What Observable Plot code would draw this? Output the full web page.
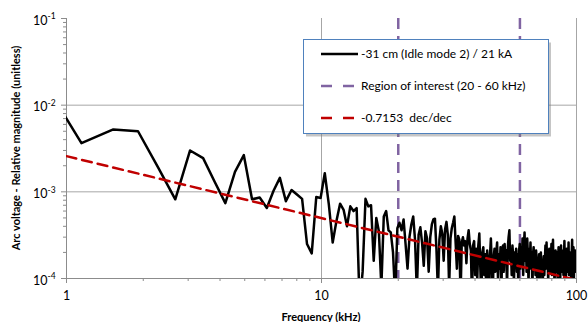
<!DOCTYPE html>
<html>
<head>
<meta charset="utf-8">
<script src="https://cdn.jsdelivr.net/npm/d3@7"></script>
<script src="https://cdn.jsdelivr.net/npm/@observablehq/plot@0.6"></script>
<style>
  html, body { margin: 0; padding: 0; background: #fff; }
  #chart svg { display: block; font-family: Lato, "Open Sans", sans-serif; }
</style>
</head>
<body>
<div id="chart"></div>
<script>
// FFT bin spacing (kHz) and first bin index shown
const binStep = 0.3815;
const firstBin = 2;

// Relative magnitude per frequency bin (bins 2 .. 262)
const magnitude = [
  2.56e-2, 3.65e-3, 5.25e-3, 5.0e-3, 1.9e-3, 8.2e-4, 3.0e-3, 2.45e-3, 1.3e-3, 7.4e-4,
  1.7e-3, 2.65e-3, 8.2e-4, 8.6e-4, 6.5e-4, 1.03e-3, 1.45e-3, 7.8e-4, 1.05e-3, 9.3e-4,
  8.3e-4, 2.5e-4, 1.95e-4, 8.7e-4, 8.5e-4, 1.64e-3, 7.2e-4, 2.6e-4, 4.6e-4, 7.3e-4,
  6.2e-4, 4.0e-4, 6.8e-4, 6.0e-4, 6.5e-4, 5e-5, 1.2e-4, 8.3e-4, 6.8e-4, 7.0e-4,
  1.6e-4, 5.0e-4, 3.5e-4, 8e-5, 5.2e-4, 6.0e-4, 3.6e-4, 3.4e-4, 2.0e-4, 6e-5,
  3.8e-4, 4.4e-4, 3.6e-4, 4.8e-4, 2.5e-4, 1.3e-4, 3.0e-4, 4.2e-4, 5.2e-4, 2.8e-4,
  7e-5, 3.2e-4, 3.9e-4, 2.6e-4, 1.4e-4, 3.5e-4, 2.9e-4, 1.2e-4, 3.0e-4, 4.2e-4,
  4.8e-4, 4.9e-4, 2.2e-4, 7e-5, 2.8e-4, 4.0e-4, 3.3e-4, 1.6e-4, 3.7e-4, 4.5e-4,
  3.2e-4, 8e-5, 2.9e-4, 3.8e-4, 4.4e-4, 5.2e-4, 2.6e-4, 1.3e-4, 3.1e-4, 2.8e-4,
  6e-5, 2.6e-4, 3.0e-4, 2.4e-4, 2.7e-4, 1.5e-4, 2.9e-4, 3.6e-4, 2.5e-4, 2.1e-4,
  6e-5, 2.4e-4, 2.7e-4, 1.1e-4, 2.2e-4, 1.0e-4, 2.4e-4, 3.3e-4, 1.3e-4, 6e-5,
  2.0e-4, 2.3e-4, 1.1e-4, 1.9e-4, 8e-5, 2.1e-4, 1.5e-4, 7e-5, 1.8e-4, 2.9e-4,
  1.4e-4, 6e-5, 1.7e-4, 2.2e-4, 1.2e-4, 2.0e-4, 2.6e-4, 1.0e-4, 1.9e-4, 1.3e-4,
  2.3e-4, 7e-5, 2.1e-4, 2.4e-4, 1.2e-4, 2.5e-4, 1.5e-4, 2.1e-4, 8e-5, 2.3e-4,
  3.0e-4, 3.6e-4, 1.6e-4, 2.2e-4, 1.1e-4, 2.4e-4, 1.8e-4, 9e-5, 2.0e-4, 1.4e-4,
  2.2e-4, 1.2e-4, 1.9e-4, 8e-5, 2.1e-4, 2.5e-4, 1.3e-4,
  2.3e-4, 1.4e-4, 2.9e-4, 1.1e-4, 2.4e-4, 3.4e-4, 1.6e-4, 2.6e-4, 1.2e-4, 2.9e-4,
  1.8e-4, 9e-5, 2.2e-4, 1.5e-4, 2.6e-4, 1.3e-4, 2.0e-4, 7e-5, 1.9e-4, 2.3e-4,
  1.4e-4, 1.8e-4, 1.1e-4, 2.1e-4, 1.6e-4, 8e-5, 1.7e-4, 1.3e-4, 1.9e-4, 1.0e-4,
  1.6e-4, 2.0e-4, 1.2e-4, 1.5e-4, 7e-5, 1.4e-4, 1.8e-4, 1.1e-4, 1.6e-4, 2.4e-4,
  1.3e-4, 2.6e-4, 1.5e-4, 1.9e-4, 9e-5, 1.7e-4, 2.2e-4, 1.2e-4, 1.8e-4, 1.4e-4,
  2.5e-4, 1.1e-4, 1.9e-4, 2.8e-4, 1.3e-4, 1.6e-4, 8e-5, 1.8e-4, 2.1e-4, 1.2e-4,
  1.5e-4, 2.0e-4, 1.0e-4, 1.7e-4, 2.3e-4, 1.4e-4, 1.9e-4, 7e-5, 1.6e-4, 2.4e-4,
  1.2e-4, 1.8e-4, 1.5e-4, 2.1e-4, 1.1e-4, 1.7e-4, 2.7e-4, 1.3e-4, 1.9e-4, 9e-5,
  1.6e-4, 2.2e-4, 1.2e-4, 1.8e-4, 1.4e-4, 2.6e-4, 1.1e-4, 1.7e-4, 2.0e-4, 1.3e-4,
  1.5e-4, 8e-5, 1.9e-4, 2.8e-4, 1.2e-4, 1.6e-4, 2.3e-4, 1.0e-4, 1.8e-4, 1.4e-4,
  2.1e-4, 1.2e-4, 1.9e-4, 1.5e-4
];

// Power-law fit (-0.7153 dec/dec) endpoints
const fitFreq = [1, 100];
const fitMag = [2.58e-3, 9.6e-5];

// Region of interest bounds (kHz)
const regionFreq = [20, 60];

// Axis ticks
const xMajor = [1, 10, 100];
const xMajorLabels = ["1", "10", "100"];
const yMajor = [1e-4, 1e-3, 1e-2, 1e-1];
const yMajorBase = ["10", "10", "10", "10"];
const yMajorExp = ["-4", "-3", "-2", "-1"];
const mult = [2, 3, 4, 5, 6, 7, 8, 9];

const seriesName = "-31 cm (Idle mode 2) / 21 kA";
const regionName = "Region of interest (20 - 60 kHz)";
const fitName = "-0.7153  dec/dec";

const spectrum = magnitude.map((v, i) => ({f: (firstBin + i) * binStep, v}));
const fit = fitFreq.map((f, i) => ({f, v: fitMag[i]}));
const xMinor = [1, 10].flatMap(d => mult.map(m => d * m));
const yMinor = [1e-4, 1e-3, 1e-2].flatMap(d => mult.map(m => d * m));
const xTickData = xMajor.map((v, i) => ({v, label: xMajorLabels[i]}));
const yTickData = yMajor.map((v, i) => ({v, base: yMajorBase[i], exp: yMajorExp[i]}));

const gridColor = "#a6a6a6";
const axisColor = "#8c8c8c";
const lineColor = "#000000";
const fitColor = "#c00000";
const regionColor = "#8064a2";
const font = "Lato, 'Open Sans', sans-serif";
const noLabel = () => "";

const chart = Plot.plot({
  width: 588,
  height: 322,
  marginLeft: 66,
  marginRight: 12,
  marginTop: 18,
  marginBottom: 44,
  style: {fontFamily: font, fontSize: "12px", color: "#000", background: "#fff"},
  x: {type: "log", domain: [1, 100]},
  y: {type: "log", domain: [1e-4, 1e-1]},
  marks: [
    Plot.gridY([1e-2, 1e-3], {stroke: gridColor, strokeOpacity: 1, strokeWidth: 1}),
    Plot.gridX([10, 100], {stroke: gridColor, strokeOpacity: 1, strokeWidth: 1}),
    Plot.ruleX([1], {stroke: axisColor, strokeWidth: 1}),
    Plot.ruleY([1e-4], {stroke: axisColor, strokeWidth: 1}),
    Plot.axisX(xMinor, {tickSize: 3, tickFormat: noLabel, stroke: axisColor, label: null}),
    Plot.axisX(xMajor, {tickSize: 5, tickFormat: noLabel, stroke: axisColor, label: null}),
    Plot.text(xTickData, {x: "v", text: "label", frameAnchor: "bottom", dy: 21, fill: "#000", fontSize: 12.5}),
    Plot.axisY(yMinor, {tickSize: 3, tickFormat: noLabel, stroke: axisColor, label: null}),
    Plot.axisY(yMajor, {tickSize: 5, tickFormat: noLabel, stroke: axisColor, label: null}),
    Plot.text(yTickData, {y: "v", text: "base", frameAnchor: "left", dx: -19, textAnchor: "end", fill: "#000", fontSize: 12.5, dy: 2}),
    Plot.text(yTickData, {y: "v", text: "exp", frameAnchor: "left", dx: -19, textAnchor: "start", fill: "#000", fontSize: 8.5, dy: -2}),
    Plot.ruleX(regionFreq, {stroke: regionColor, strokeWidth: 2.5, strokeDasharray: "11,7"}),
    Plot.line(spectrum, {x: "f", y: "v", stroke: lineColor, strokeWidth: 2.5, clip: true}),
    Plot.line(fit, {x: "f", y: "v", stroke: fitColor, strokeWidth: 2.5, strokeDasharray: "10,6", clip: true})
  ]
});

document.getElementById("chart").appendChild(chart);

const svg = d3.select(chart);

// Axis titles
svg.append("text")
  .attr("transform", "translate(20,148) rotate(-90)")
  .attr("text-anchor", "middle")
  .attr("font-family", font)
  .attr("font-weight", "bold")
  .attr("font-size", 11)
  .attr("fill", "#000")
  .text("Arc voltage - Relative magnitude (unitless)");

svg.append("text")
  .attr("x", 321).attr("y", 321)
  .attr("text-anchor", "middle")
  .attr("font-family", font)
  .attr("font-weight", "bold")
  .attr("font-size", 11)
  .attr("fill", "#000")
  .text("Frequency (kHz)");

// Legend
const lg = svg.append("g");
lg.append("rect").attr("x", 306).attr("y", 42.5).attr("width", 245).attr("height", 94)
  .attr("fill", "#7f7f7f").attr("opacity", 0.45);
lg.append("rect").attr("x", 303.5).attr("y", 39.5).attr("width", 245).attr("height", 94)
  .attr("fill", "#fff").attr("stroke", "#4f81bd").attr("stroke-width", 1);
const entries = [
  {name: seriesName, color: lineColor, dash: null, y: 54},
  {name: regionName, color: regionColor, dash: "11,11", y: 86},
  {name: fitName, color: fitColor, dash: "11,11", y: 118}
];
entries.forEach(e => {
  const l = lg.append("line").attr("x1", 321).attr("x2", 358).attr("y1", e.y).attr("y2", e.y)
    .attr("stroke", e.color).attr("stroke-width", 2.5);
  if (e.dash) l.attr("stroke-dasharray", e.dash);
  lg.append("text").attr("x", 361).attr("y", e.y).attr("dy", "0.36em")
    .attr("text-anchor", "start")
    .attr("font-family", font).attr("font-size", 12).attr("fill", "#000").text(e.name);
});
</script>
</body>
</html>
